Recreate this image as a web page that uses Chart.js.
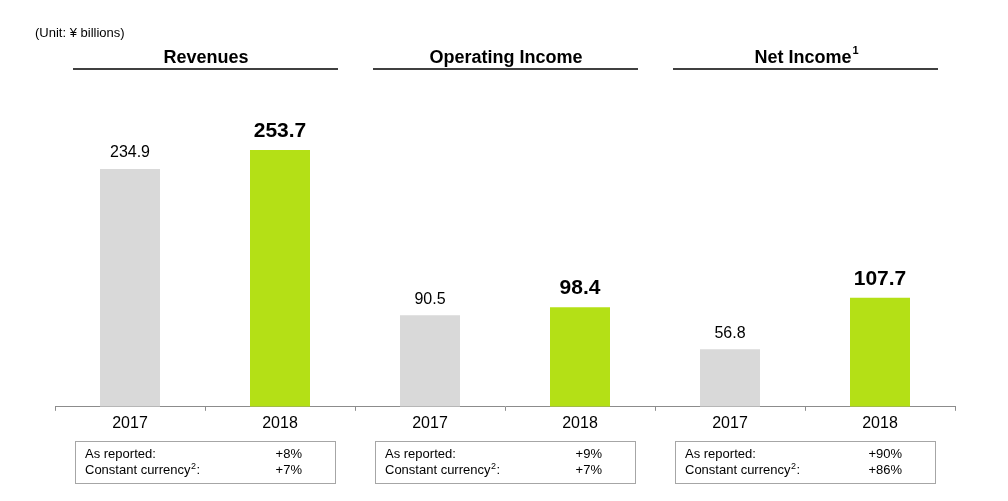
<!DOCTYPE html>
<html>
<script src="https://cdn.jsdelivr.net/npm/chart.js@4.4.1/dist/chart.umd.min.js"></script>
<body style="margin:0;background:#fff">

<div style="width:1008px;height:501px"><canvas id="myChart"></canvas></div>

<script>
const groups = ["Revenues", "Operating Income", "Net Income"];
const groupNotes = ["", "", "1"];
const years = ["2017", "2018"];
const values2017 = [234.9, 90.5, 56.8];
const values2018 = [253.7, 98.4, 107.7];
const asReported = ["+8%", "+9%", "+90%"];
const constantCurrency = ["+7%", "+7%", "+86%"];

const grayColor = "#d9d9d9";
const greenColor = "#b4e016";
const font = "Arial, 'Liberation Sans', sans-serif";

// flatten into one category axis: 2017,2018 for each group
let labels = [];
let values = [];
let colors = [];
for (let i = 0; i < groups.length; i++) {
  labels.push(years[0], years[1]);
  values.push(values2017[i], values2018[i]);
  colors.push(grayColor, greenColor);
}

const extras = {
  id: "extras",
  afterDraw(chart) {
    const ctx = chart.ctx;
    const x = chart.scales.x;
    const meta = chart.getDatasetMeta(0);
    ctx.save();
    ctx.fillStyle = "#000";
    ctx.textBaseline = "middle";

    // unit
    ctx.font = "13px " + font;
    ctx.textAlign = "left";
    ctx.fillText("(Unit: ¥ billions)", 35, 33);

    // value labels
    meta.data.forEach((bar, i) => {
      ctx.textAlign = "center";
      if (i % 2 == 0) {
        ctx.font = "16px " + font;
        ctx.fillText(values[i].toFixed(1), bar.x, bar.y - 16);
      } else {
        ctx.font = "bold 21px " + font;
        ctx.fillText(values[i].toFixed(1), bar.x, bar.y - 19);
      }
    });

    for (let g = 0; g < groups.length; g++) {
      const cx = (x.getPixelForValue(g * 2) + x.getPixelForValue(g * 2 + 1)) / 2;

      // title
      ctx.font = "bold 18px " + font;
      const tw = ctx.measureText(groups[g]).width;
      let sw = 0;
      if (groupNotes[g]) {
        ctx.font = "bold 11px " + font;
        sw = ctx.measureText(groupNotes[g]).width;
      }
      ctx.font = "bold 18px " + font;
      ctx.textAlign = "left";
      const tx = cx - (tw + sw) / 2 + 1;
      ctx.fillText(groups[g], tx, 58);
      if (groupNotes[g]) {
        ctx.font = "bold 11px " + font;
        ctx.fillText(groupNotes[g], tx + tw + 1, 51);
      }

      // underline
      ctx.strokeStyle = "#000";
      ctx.lineWidth = 1.3;
      ctx.beginPath();
      ctx.moveTo(cx - 132, 69);
      ctx.lineTo(cx + 133, 69);
      ctx.stroke();

      // growth box
      const bx = cx - 130, by = 441.5, bw = 260, bh = 42;
      ctx.strokeStyle = "#a6a6a6";
      ctx.lineWidth = 1;
      ctx.strokeRect(Math.round(bx) + 0.5, by, bw, bh);
      ctx.font = "13px " + font;
      ctx.textAlign = "left";
      ctx.fillText("As reported:", bx + 10, by + 13);
      ctx.fillText("Constant currency", bx + 10, by + 29);
      const cw = ctx.measureText("Constant currency").width;
      ctx.font = "9px " + font;
      ctx.fillText("2", bx + 10 + cw + 0.5, by + 25);
      ctx.font = "13px " + font;
      ctx.fillText(":", bx + 10 + cw + 6, by + 29);
      ctx.textAlign = "right";
      ctx.fillText(asReported[g], bx + 227, by + 13);
      ctx.fillText(constantCurrency[g], bx + 227, by + 29);
    }
    ctx.restore();
  }
};

const myChart = new Chart("myChart", {
  type: "bar",
  data: {
    labels: labels,
    datasets: [{
      data: values,
      backgroundColor: colors,
      categoryPercentage: 1,
      barPercentage: 0.4
    }]
  },
  options: {
    responsive: true,
    maintainAspectRatio: false,
    animation: false,
    layout: { padding: { top: 101, left: 55, right: 53, bottom: 65 } },
    plugins: { legend: { display: false }, tooltip: { enabled: false } },
    scales: {
      y: { display: false, min: 0, max: 302 },
      x: {
        border: { color: "#8c8c8c", width: 1 },
        grid: { drawOnChartArea: false, tickLength: 4, color: "#8c8c8c" },
        ticks: { color: "#000", font: { size: 16, family: font }, padding: 3 }
      }
    }
  },
  plugins: [extras]
});
</script>

</body>
</html>
